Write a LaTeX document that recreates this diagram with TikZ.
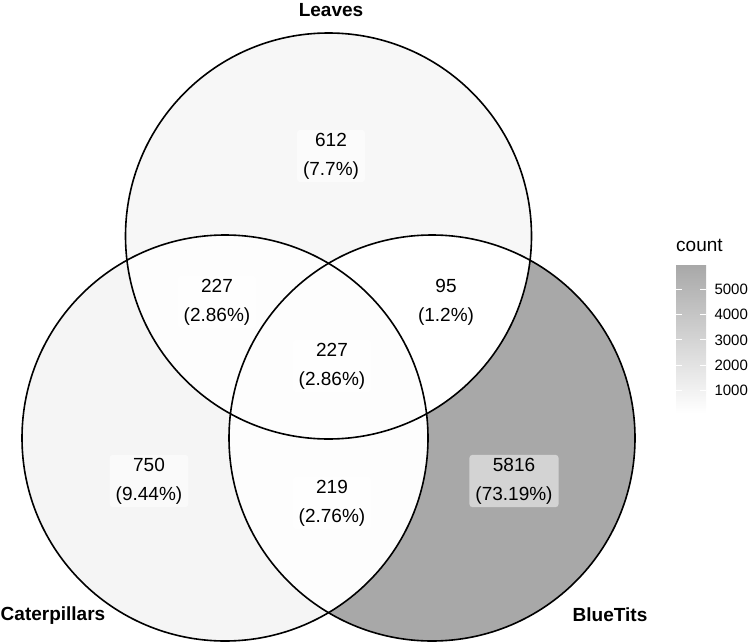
\documentclass[tikz,border=0pt]{standalone}
\usepackage{fontspec}
\setmainfont{Liberation Sans}
\usetikzlibrary{positioning}

% count colours (white -> grey)
\definecolor{countmax}{gray}{0.66}
\colorlet{fLeaves}{countmax!9!white}
\colorlet{fCater}{countmax!11.5!white}
\colorlet{fBlue}{countmax}
\colorlet{fLC}{countmax!2.3!white}
\colorlet{fLB}{white}
\colorlet{fCB}{countmax!2.2!white}
\colorlet{fLCB}{countmax!2.3!white}

\tikzset{
  setcircle/.style={line width=1.6pt, draw=black},
  countlabel/.style={fill=white, fill opacity=0.5, text opacity=1, rounded corners=3pt,
    align=center, inner xsep=6pt, inner ysep=3pt, font=\fontsize{19}{29}\selectfont},
  setname/.style={font=\bfseries\fontsize{19}{22}\selectfont},
  ticklabel/.style={font=\fontsize{15}{18}\selectfont, anchor=west}
}

\begin{document}
\begin{tikzpicture}[x=1pt, y=-1pt]
    \useasboundingbox (0,0) rectangle (749,642);

    % Circle centres
    \coordinate (L) at (328.5,236);
    \coordinate (C) at (225,438);
    \coordinate (B) at (432,438);

    % Fill the single regions
    \fill[fLeaves] (L) circle[radius=203pt];
    \fill[fCater] (C) circle[radius=203pt];
    \fill[fBlue] (B) circle[radius=203pt];

    % Fill the overlaps
    \begin{scope}
      \clip (L) circle[radius=203pt];
      \fill[fLC] (C) circle[radius=203pt];
      \fill[fLB] (B) circle[radius=203pt];
    \end{scope}
    \begin{scope}
      \clip (C) circle[radius=203pt];
      \fill[fCB] (B) circle[radius=203pt];
      \clip (L) circle[radius=203pt];
      \fill[fLCB] (B) circle[radius=203pt];
    \end{scope}

    % Draw the circles
    \foreach \c in {L,C,B} {
      \draw[setcircle] (\c) circle[radius=203pt];
    }

    % Counts
    \node[countlabel] (nL) at (331,156) {612\\(7.7\%)};
    \node[countlabel] (nLC) at (217,302) {227\\(2.86\%)};
    \node[countlabel] (nLB) at (446,302) {95\\(1.2\%)};
    \node[countlabel] (nLCB) at (332,366) {227\\(2.86\%)};
    \node[countlabel] (nC) at (149,481) {750\\(9.44\%)};
    \node[countlabel] (nCB) at (332,503) {219\\(2.76\%)};
    \node[countlabel] (nB) at (514,481) {5816\\(73.19\%)};

    % Set names
    \node[setname] (tL) at (331,10) {Leaves};
    \node[setname] (tC) at (53,616) {Caterpillars};
    \node[setname] (tB) at (610,615) {BlueTits};

    % Legend
    \node[font=\fontsize{19}{22}\selectfont, anchor=west, inner sep=0pt] (leg) at (676,245) {count};
    \shade[top color=countmax, bottom color=white] (676,265) rectangle (706,413);
    \foreach \v in {1000,2000,3000,4000,5000} {
      \pgfmathsetmacro{\yv}{413-(\v-95)/5721*144}
      \draw[white, line width=0.8pt] (676,\yv) -- (682,\yv);
      \draw[white, line width=0.8pt] (700,\yv) -- (706,\yv);
      \node[ticklabel] (tick\v) at (711,\yv) {\v};
    }

  \end{tikzpicture}
\end{document}
